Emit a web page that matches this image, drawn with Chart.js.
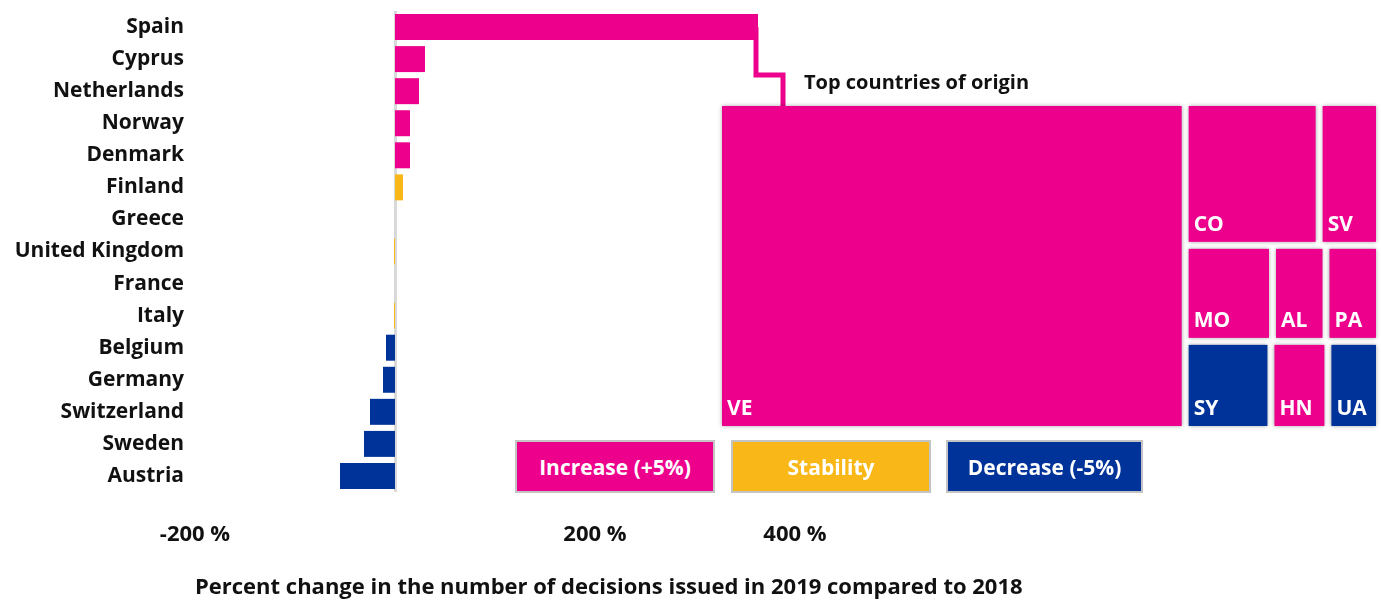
<!DOCTYPE html>
<html>
<head>
<meta charset="utf-8">
<script src="https://cdn.jsdelivr.net/npm/chart.js@4.4.1/dist/chart.umd.min.js"></script>
<style>
body { margin: 0; background: #fff; font-family: 'Open Sans', sans-serif; }
#wrap { position: relative; width: 1381px; height: 604px; overflow: hidden; }
#barChart { position: absolute; left: 0; top: 0; }
#treeChart { position: absolute; left: 716px; top: 100px; }
.note { position: absolute; left: 804px; top: 68px; font-weight: bold; font-size: 20px; color: #111; }
.key { position: absolute; top: 440px; height: 53px; border: 2px solid #c4c4c4; color: #fff; font-weight: bold;
       font-size: 21px; display: flex; align-items: center; justify-content: center; box-sizing: border-box; }
</style>
</head>
<body>
<div id="wrap">
  <canvas id="barChart" width="1381" height="604"></canvas>
  <canvas id="treeChart" width="666" height="332"></canvas>
  <div class="note">Top countries of origin</div>
  <div class="key" style="left:515px;width:200px;background:#EC008C">Increase (+5%)</div>
  <div class="key" style="left:731px;width:200px;background:#FAB818">Stability</div>
  <div class="key" style="left:946px;width:197px;background:#003399">Decrease (-5%)</div>
</div>
<script>
// Bar chart data
const countries = ['Spain', 'Cyprus', 'Netherlands', 'Norway', 'Denmark', 'Finland', 'Greece',
    'United Kingdom', 'France', 'Italy', 'Belgium', 'Germany', 'Switzerland', 'Sweden', 'Austria'];
const changePct = [363, 30, 24, 15, 15, 8, 0, -1, 0, -1, -9, -12, -25, -31, -55];
const trend = ['up', 'up', 'up', 'up', 'up', 'stable', 'stable', 'stable', 'stable', 'stable',
    'down', 'down', 'down', 'down', 'down'];
const xTicks = [-200, 200, 400];

// Treemap data (relative size of decisions for Spain's top countries of origin)
const originCodes = ['VE', 'CO', 'SV', 'MO', 'AL', 'PA', 'SY', 'HN', 'UA'];
const originSize = [129.2, 16.2, 7.3, 7.1, 4.35, 4.35, 6.4, 4.25, 3.85];
const originRow = [0, 1, 1, 2, 2, 2, 3, 3, 3];
const originTrend = ['up', 'up', 'up', 'up', 'up', 'up', 'down', 'up', 'down'];

const trendColors = { up: '#EC008C', stable: '#FAB818', down: '#003399' };
const textColor = '#111';
const fontFamily = "'Open Sans', sans-serif";

// Light grey zero line and elbow connector from the Spain bar to the treemap
const barDecor = {
    id: 'barDecor',
    beforeDatasetsDraw(chart) {
        const { ctx, chartArea, scales: { x } } = chart;
        const x0 = x.getPixelForValue(0);
        ctx.save();
        ctx.strokeStyle = '#d9d9d9';
        ctx.lineWidth = 3;
        ctx.beginPath();
        ctx.moveTo(x0 + 0.5, chartArea.top);
        ctx.lineTo(x0 + 0.5, chartArea.bottom);
        ctx.stroke();
        ctx.restore();
    },
    afterDatasetsDraw(chart) {
        const { ctx, scales: { x, y } } = chart;
        const xe = x.getPixelForValue(changePct[0]) - 2;
        const yb = y.getPixelForValue(0);
        ctx.save();
        ctx.strokeStyle = '#EC008C';
        ctx.lineWidth = 5;
        ctx.beginPath();
        ctx.moveTo(xe, yb);
        ctx.lineTo(xe, 75);
        ctx.lineTo(xe + 27, 75);
        ctx.lineTo(xe + 27, 110);
        ctx.stroke();
        ctx.restore();
    }
};

new Chart(document.getElementById('barChart'), {
    type: 'bar',
    data: {
        labels: countries,
        datasets: [{
            data: changePct,
            backgroundColor: trend.map(t => trendColors[t]),
            barPercentage: 0.81,
            categoryPercentage: 1
        }]
    },
    options: {
        indexAxis: 'y',
        responsive: false,
        animation: false,
        layout: { padding: { top: 11, right: 86, bottom: 0, left: 0 } },
        plugins: { legend: { display: false }, tooltip: { enabled: false } },
        scales: {
            x: {
                min: -200,
                max: 900,
                grid: { display: false, drawTicks: false },
                border: { display: false },
                afterBuildTicks: scale => { scale.ticks = xTicks.map(v => ({ value: v })); },
                afterFit: scale => { scale.height = 112; },
                ticks: {
                    padding: 30,
                    color: textColor,
                    font: { family: fontFamily, size: 22, weight: 'bold' },
                    callback: v => v + ' %'
                },
                title: {
                    display: true,
                    align: 'start',
                    text: 'Percent change in the number of decisions issued in 2019 compared to 2018',
                    color: textColor,
                    font: { family: fontFamily, size: 22, weight: 'bold' },
                    padding: { top: 3, bottom: 3 }
                }
            },
            y: {
                grid: { display: false, drawTicks: false },
                border: { display: false },
                afterFit: scale => {
                    scale.width = 195;
                    scale.paddingTop = 0;
                    scale.paddingBottom = 0;
                },
                ticks: {
                    padding: 11,
                    color: textColor,
                    font: { family: fontFamily, size: 21, weight: 'bold' }
                }
            }
        }
    },
    plugins: [barDecor]
});

// Treemap: main column for the largest origin, remaining origins in rows
const treemapCells = {
    id: 'treemapCells',
    afterDatasetsDraw(chart) {
        const { ctx, scales: { x, y } } = chart;
        const total = originSize.reduce((a, b) => a + b, 0);
        const mainSum = originSize.filter((v, i) => originRow[i] === 0).reduce((a, b) => a + b, 0);
        const mainW = mainSum / total;
        const restTotal = total - mainSum;
        const rows = [...new Set(originRow.filter(r => r > 0))];
        const cells = [];
        originCodes.forEach((code, i) => {
            if (originRow[i] === 0) cells.push({ i, x0: 0, x1: mainW, y0: 0, y1: 1 });
        });
        let yCur = 0;
        rows.forEach(r => {
            const idx = originRow.map((v, i) => v === r ? i : -1).filter(i => i >= 0);
            const rowSum = idx.reduce((a, i) => a + originSize[i], 0);
            const h = rowSum / restTotal;
            let xCur = mainW;
            idx.forEach(i => {
                const w = (originSize[i] / rowSum) * (1 - mainW);
                cells.push({ i, x0: xCur, x1: xCur + w, y0: yCur, y1: yCur + h });
                xCur += w;
            });
            yCur += h;
        });
        const gap = 3.5;
        ctx.save();
        cells.forEach(c => {
            const px0 = x.getPixelForValue(c.x0) + gap;
            const px1 = x.getPixelForValue(c.x1) - gap;
            const py0 = y.getPixelForValue(c.y0) + gap;
            const py1 = y.getPixelForValue(c.y1) - gap;
            ctx.shadowColor = 'rgba(0,0,0,0.35)';
            ctx.shadowBlur = 4;
            ctx.fillStyle = trendColors[originTrend[c.i]];
            ctx.fillRect(px0, py0, px1 - px0, py1 - py0);
            ctx.shadowBlur = 0;
            ctx.fillStyle = '#fff';
            ctx.font = 'bold 21px ' + fontFamily;
            ctx.textBaseline = 'alphabetic';
            ctx.fillText(originCodes[c.i], px0 + 5, py1 - 11);
        });
        ctx.restore();
    }
};

new Chart(document.getElementById('treeChart'), {
    type: 'scatter',
    data: { datasets: [{ data: [] }] },
    options: {
        responsive: false,
        animation: false,
        layout: { padding: 2.5 },
        plugins: { legend: { display: false }, tooltip: { enabled: false } },
        scales: {
            x: { min: 0, max: 1, display: false },
            y: { min: 0, max: 1, reverse: true, display: false }
        }
    },
    plugins: [treemapCells]
});
</script>
</body>
</html>
